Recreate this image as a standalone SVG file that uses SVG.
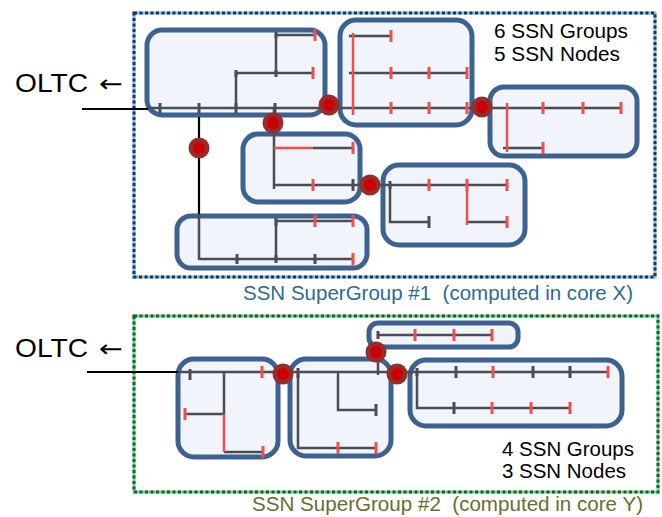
<svg xmlns="http://www.w3.org/2000/svg" width="662" height="517" viewBox="0 0 662 517">
<style>
.box{fill:#f1f5fb;stroke:#3d6291;stroke-width:5}
.ln{stroke:#4a4d52;stroke-width:2.5;fill:none}
.tk{stroke:#4a4d52;stroke-width:3}
.rd{stroke:#f24d4d;stroke-width:2.5;fill:none}
.rt{stroke:#f24d4d;stroke-width:3}
.bk{stroke:#000;stroke-width:2.2;fill:none}
.t{font-family:"Liberation Sans",Arial,sans-serif;fill:#000}
.ar{font-family:"DejaVu Sans",sans-serif;fill:#000}
.no{fill:#962c2c}
.ni{fill:#cc0000}
</style>
<defs>
<g id="node"><circle r="10.5" class="no"/><circle r="6" class="ni"/></g>
</defs>
<g id="supergroup1">
<rect x="134" y="13" width="521" height="264" fill="none" stroke="#8cbbe2" stroke-width="3"/>
<rect x="134" y="13" width="521" height="264" fill="none" stroke="#0e3a66" stroke-width="3" stroke-dasharray="3 2.5"/>
<text class="t" x="243" y="300" font-size="20" style="fill:#2f6b8c" textLength="390" lengthAdjust="spacingAndGlyphs" xml:space="preserve">SSN SuperGroup #1  (computed in core X)</text>
</g>
<g id="supergroup2">
<rect x="134" y="316" width="524" height="176" fill="none" stroke="#86cc98" stroke-width="3"/>
<rect x="134" y="316" width="524" height="176" fill="none" stroke="#0b6a2a" stroke-width="3" stroke-dasharray="3 2.5"/>
<text class="t" x="252" y="511" font-size="20" style="fill:#6a6e2c" textLength="391" lengthAdjust="spacingAndGlyphs" xml:space="preserve">SSN SuperGroup #2  (computed in core Y)</text>
</g>
<g id="labels">
<text class="t" x="15" y="92" font-size="25" textLength="73" lengthAdjust="spacingAndGlyphs">OLTC</text>
<text class="ar" x="99" y="92" font-size="24" textLength="24" lengthAdjust="spacingAndGlyphs">←</text>
<text class="t" x="15" y="357" font-size="25" textLength="73" lengthAdjust="spacingAndGlyphs">OLTC</text>
<text class="ar" x="99" y="357" font-size="24" textLength="24" lengthAdjust="spacingAndGlyphs">←</text>
<text class="t" x="494" y="38" font-size="20" textLength="134" lengthAdjust="spacingAndGlyphs">6 SSN Groups</text>
<text class="t" x="494" y="61" font-size="20" textLength="126" lengthAdjust="spacingAndGlyphs">5 SSN Nodes</text>
<text class="t" x="502" y="456" font-size="20" textLength="132" lengthAdjust="spacingAndGlyphs">4 SSN Groups</text>
<text class="t" x="502" y="478" font-size="20" textLength="124" lengthAdjust="spacingAndGlyphs">3 SSN Nodes</text>
</g>
<g id="groupA">
<rect class="box" x="147" y="30" width="178" height="85" rx="15"/>
<path class="ln" d="M148 108H329M236 108V73H313M276 73V35H315"/>
<path class="tk" d="M160 103V113M199 103V113M236 103V113M275 103V113M236 70V77M276 32V38M276 70V77"/>
<path class="rt" d="M313 67V79M315 29V41"/>
</g>
<g id="groupB">
<rect class="box" x="340" y="20" width="132" height="105" rx="16"/>
<path class="ln" d="M349 36H391M349 73H467M329 108H482"/>
<path class="rd" d="M353 33V115"/>
<path class="rt" d="M391 30V42M391 67V79M429 67V79M467 67V79M391 102V114M429 102V114M467 102V114"/>
</g>
<g id="groupC">
<rect class="box" x="490" y="87" width="147" height="69" rx="14"/>
<path class="ln" d="M482 108H621M503 148H543"/>
<path class="rd" d="M507 103V152"/>
<path class="rt" d="M543 102V114M583 102V114M621 102V114M543 142V154"/>
</g>
<g id="groupD">
<rect class="box" x="243" y="134" width="117" height="68" rx="15"/>
<path class="ln" d="M274 108V189M313 148H353M274 185H370"/>
<path class="rd" d="M274 148H313"/>
<path class="rt" d="M353 142V154M313 179V191"/>
<path class="tk" d="M353 179V191"/>
</g>
<g id="groupE">
<rect class="box" x="177" y="216" width="190" height="52" rx="14"/>
<path class="ln" d="M199 214V260M199 259H353M276 259V221H353"/>
<path class="tk" d="M237 254V264M315 254V264M276 218V226M276 255V263"/>
<path class="rt" d="M353 253V265M315 215V227M353 215V227"/>
</g>
<g id="groupF">
<rect class="box" x="383" y="165" width="142" height="80" rx="16"/>
<path class="ln" d="M370 185H507M390 185V222H429M467 222H507"/>
<path class="rd" d="M467 185V225"/>
<path class="tk" d="M390 181V189M429 216V228"/>
<path class="rt" d="M429 179V191M467 179V191M507 179V191M507 216V228"/>
</g>
<g id="groupG">
<rect class="box" x="178" y="359" width="100" height="98" rx="16"/>
<path class="ln" d="M178 372H283M224 372V414H185M224 452H263"/>
<path class="rd" d="M224 414V452"/>
<path class="tk" d="M190 369V380"/>
<path class="rt" d="M262 366V378M185 408V420M263 446V458"/>
</g>
<g id="groupH">
<rect class="box" x="290" y="359" width="101" height="97" rx="16"/>
<path class="ln" d="M283 372H397M298 372V448H377M338 372V410H376M378 335V375"/>
<path class="tk" d="M298 368V378M376 404V416"/>
<path class="rt" d="M338 442V454M376 442V454"/>
</g>
<g id="groupJ">
<rect class="box" x="369" y="323" width="149" height="24" rx="9"/>
<path class="ln" d="M378 335H492"/>
<path class="tk" d="M378 331V339"/>
<path class="rt" d="M415 329V341M454 329V341M492 329V341"/>
</g>
<g id="groupI">
<rect class="box" x="410" y="360" width="212" height="66" rx="16"/>
<path class="ln" d="M397 372H608M417 372V408H570"/>
<path class="tk" d="M417 368V376M456 366V378M533 366V378M570 366V378M454 402V414"/>
<path class="rt" d="M493 366V378M608 366V378M492 402V414M531 402V414M570 402V414"/>
</g>
<g id="connectors">
<path class="bk" d="M82 109H148M199 117V214M87 372H178"/>
</g>
<g id="ssn-nodes">
<use id="n1" href="#node" x="329" y="105"/>
<use id="n2" href="#node" x="482" y="107"/>
<use id="n3" href="#node" x="273" y="123"/>
<use id="n4" href="#node" x="199" y="148"/>
<use id="n5" href="#node" x="370" y="185"/>
<use id="n6" href="#node" x="283" y="374"/>
<use id="n7" href="#node" x="376" y="352"/>
<use id="n8" href="#node" x="397" y="374"/>
</g>
</svg>
